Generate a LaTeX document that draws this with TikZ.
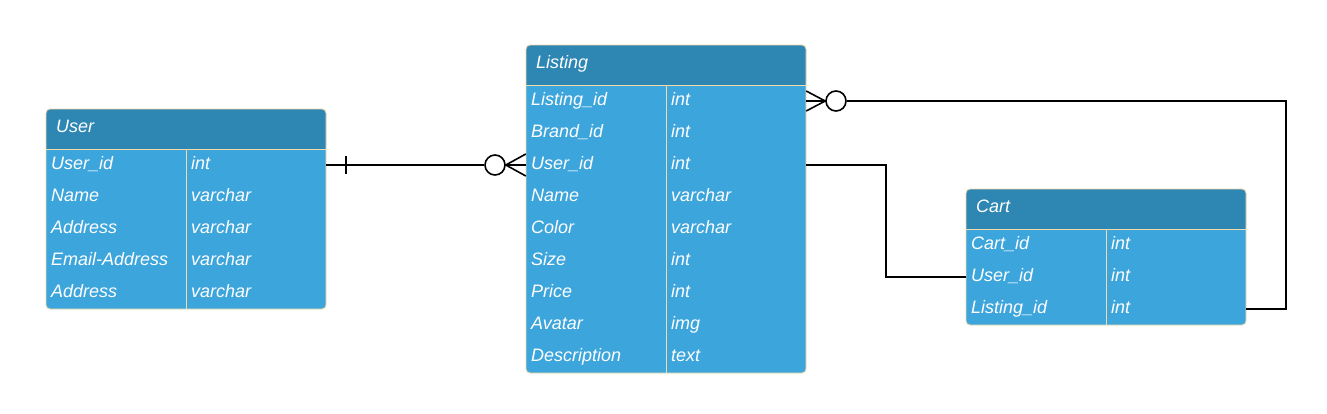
\documentclass[tikz,border=0pt]{standalone}
\usepackage{fontspec}
\setmainfont{Liberation Sans}
\usetikzlibrary{calc}
\definecolor{hdrc}{RGB}{46,134,179}
\definecolor{bodyc}{RGB}{60,165,220}
\definecolor{edgec}{RGB}{242,218,170}
\newcommand\ertable[6]{%
\begin{scope}[shift={(#2,#3)}]
  \pgfmathsetmacro\tbot{40+32*#5}
  \fill[bodyc, rounded corners=4pt] (0,0) rectangle (280,\tbot);
  \fill[hdrc, rounded corners=4pt] (0,0) rectangle (280,40);
  \fill[hdrc] (0,20) rectangle (280,40);
  \draw[edgec, line width=0.8pt] (0,40) -- (280,40);
  \draw[edgec, line width=0.8pt] (140,40) -- (140,\tbot);
  \draw[edgec, line width=0.8pt, rounded corners=4pt] (0,0) rectangle (280,\tbot);
  \node[ttl] (#1-title) at (10,23.5) {#4};
  \foreach \a/\b [count=\i] in {#6} {
    \node[rowbox] (#1-\i) at (140,24+32*\i) {};
    \node[cell] (#1-\i-n) at (5,28+32*\i) {\a};
    \node[cell] (#1-\i-t) at (145,28+32*\i) {\b};
  }
\end{scope}}
\begin{document}
\begin{tikzpicture}[x=1pt,y=-1pt,
  ttl/.style={anchor=base west, inner sep=0pt, text=white, font=\fontsize{18}{21}\selectfont\itshape},
  cell/.style={anchor=base west, inner sep=0pt, text=white, font=\fontsize{18}{21}\selectfont\itshape},
  rowbox/.style={minimum width=280pt, minimum height=32pt, inner sep=0pt, draw=none},
  conn/.style={draw=black, line width=1.6pt},
  ring/.style={circle, draw=black, line width=1.6pt, fill=white, minimum size=20pt, inner sep=0pt}]
\fill[white] (0,0) rectangle (1327,413);
\useasboundingbox (0,0) rectangle (1327,413);

\ertable{user}{46}{109}{User}{5}{User\_id/int, Name/varchar, Address/varchar, Email-Address/varchar, Address/varchar}
\ertable{listing}{526}{45}{Listing}{9}{Listing\_id/int, Brand\_id/int, User\_id/int, Name/varchar, Color/varchar, Size/int, Price/int, Avatar/img, Description/text}
\ertable{cart}{966}{189}{Cart}{3}{Cart\_id/int, User\_id/int, Listing\_id/int}

% User -> Listing (one to many)
\node[ring] (c1) at (495,165) {};
\draw[conn] (user-1.east) -- (c1.west);
\draw[conn] ([xshift=20pt]user-1.east) ++(0,-9) -- ++(0,18);
\draw[conn] (c1.east) -- (listing-3.west);
\draw[conn] ([yshift=11pt]listing-3.west) -- (c1.east) -- ([yshift=-11pt]listing-3.west);

% Listing -> Cart (listing_id)
\node[ring] (c2) at (836,101) {};
\draw[conn] ([yshift=10pt]listing-1.east) -- (c2.west) -- ([yshift=-10pt]listing-1.east);
\draw[conn] (listing-1.east) -- (c2.west);
\draw[conn] (c2.east) -| ([xshift=40pt]cart-3.east) -- (cart-3.east);

% Listing user_id -> Cart user_id
\draw[conn] (listing-3.east) -- ++(80,0) |- (cart-2.west);
\end{tikzpicture}
\end{document}
